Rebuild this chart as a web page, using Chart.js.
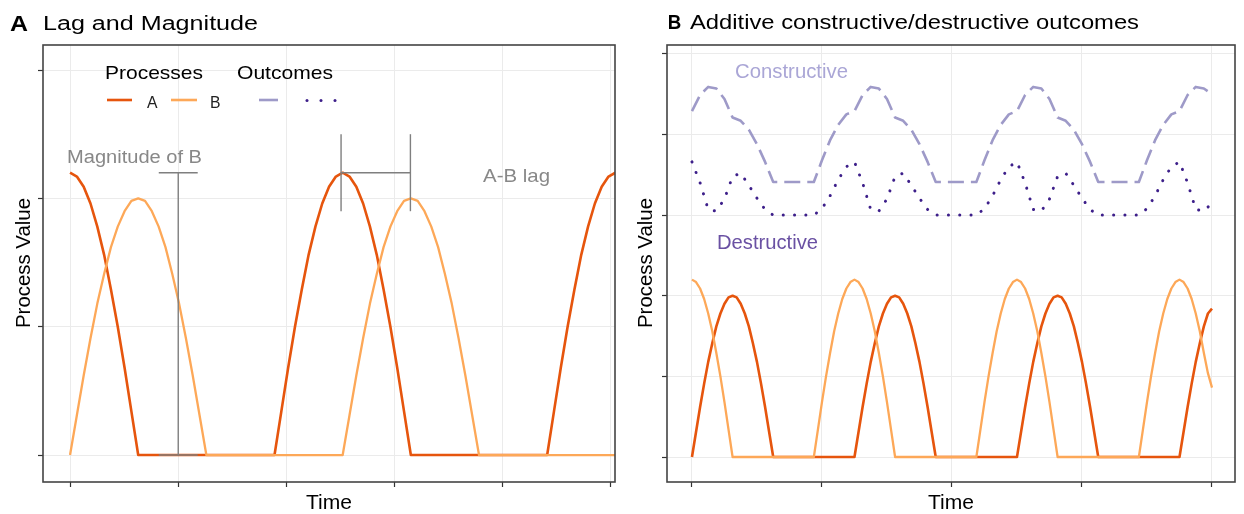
<!DOCTYPE html>
<html>
<head>
<meta charset="utf-8">
<script src="https://cdn.jsdelivr.net/npm/chart.js@4.4.1/dist/chart.umd.min.js"></script>
<style>
  body { margin: 0; background: #fff; }
  #wrap { position: relative; width: 1244px; height: 514px; }
  canvas { position: absolute; top: 0; }
  #chartA { left: 0; }
  #chartB { left: 622px; }
</style>
</head>
<body>
<div id="wrap">
  <canvas id="chartA" width="622" height="514"></canvas>
  <canvas id="chartB" width="622" height="514"></canvas>
</div>
<script>
// ---- panel A data ----
const timeA = [0,0.063,0.126,0.189,0.252,0.315,0.378,0.441,0.504,0.567,0.63,0.693,0.756,0.819,0.882,0.945,1.008,1.071,1.134,1.197,
  1.26,1.323,1.386,1.449,1.512,1.575,1.638,1.701,1.764,1.827,1.89,1.953,2.016,2.079,2.142,2.205,2.268,2.331,2.394,2.457,
  2.52,2.583,2.646,2.709,2.772,2.835,2.898,2.961,3.024,3.087,3.15,3.213,3.276,3.339,3.402,3.465,3.528,3.591,3.654,3.717,
  3.78,3.843,3.906,3.969,4.032,4.095,4.158,4.221,4.284,4.347,4.41,4.473,4.536,4.599,4.662,4.725,4.788,4.851,4.914,4.977,5.04];
const procA_A = [2.2,2.17,2.09,1.96,1.78,1.56,1.29,1,0.68,0.34,0,0,0,0,0,0,0,0,0,0,
  0,0,0,0,0,0,0,0,0,0,0,0.34,0.68,1,1.29,1.56,1.78,1.96,2.09,2.17,
  2.2,2.17,2.09,1.96,1.78,1.56,1.29,1,0.68,0.34,0,0,0,0,0,0,0,0,0,0,
  0,0,0,0,0,0,0,0,0,0,0,0.34,0.68,1,1.29,1.56,1.78,1.96,2.09,2.17,2.2];
const procB_A = [0,0.31,0.62,0.91,1.18,1.41,1.62,1.78,1.9,1.98,2,1.98,1.9,1.78,1.62,1.41,1.18,0.91,0.62,0.31,
  0,0,0,0,0,0,0,0,0,0,0,0,0,0,0,0,0,0,0,0,
  0,0.31,0.62,0.91,1.18,1.41,1.62,1.78,1.9,1.98,2,1.98,1.9,1.78,1.62,1.41,1.18,0.91,0.62,0.31,
  0,0,0,0,0,0,0,0,0,0,0,0,0,0,0,0,0,0,0,0,0];
const xTicksA = [0,1,2,3,4,5];
const yTicksA = [0,1,2,3];
// annotation bars in panel A
const magnitudeBar = {time: 1.0, low: 0, high: 2.2, cap: 0.18};
const lagBar = {level: 2.2, start: 2.505, end: 3.146, capLow: 1.9, capHigh: 2.5};

// ---- panel B data ----
const timeB = [0,0.03125,0.0625,0.09375,0.125,0.15625,0.1875,0.21875,0.25,0.28125,0.3125,0.34375,0.375,0.40625,0.4375,0.46875,
  0.5,0.53125,0.5625,0.59375,0.625,0.65625,0.6875,0.71875,0.75,0.78125,0.8125,0.84375,0.875,0.90625,0.9375,0.96875,
  1,1.03125,1.0625,1.09375,1.125,1.15625,1.1875,1.21875,1.25,1.28125,1.3125,1.34375,1.375,1.40625,1.4375,1.46875,
  1.5,1.53125,1.5625,1.59375,1.625,1.65625,1.6875,1.71875,1.75,1.78125,1.8125,1.84375,1.875,1.90625,1.9375,1.96875,
  2,2.03125,2.0625,2.09375,2.125,2.15625,2.1875,2.21875,2.25,2.28125,2.3125,2.34375,2.375,2.40625,2.4375,2.46875,
  2.5,2.53125,2.5625,2.59375,2.625,2.65625,2.6875,2.71875,2.75,2.78125,2.8125,2.84375,2.875,2.90625,2.9375,2.96875,
  3,3.03125,3.0625,3.09375,3.125,3.15625,3.1875,3.21875,3.25,3.28125,3.3125,3.34375,3.375,3.40625,3.4375,3.46875,
  3.5,3.53125,3.5625,3.59375,3.625,3.65625,3.6875,3.71875,3.75,3.78125,3.8125,3.84375,3.875,3.90625,3.9375,3.96875,4];
const procA_B = [0,0.31,0.62,0.91,1.18,1.41,1.62,1.78,1.9,1.98,2,1.98,1.9,1.78,1.62,1.41,1.18,0.91,0.62,0.31,
  0,0,0,0,0,0,0,0,0,0,0,0,0,0,0,0,0,0,0,0,
  0,0.31,0.62,0.91,1.18,1.41,1.62,1.78,1.9,1.98,2,1.98,1.9,1.78,1.62,1.41,1.18,0.91,0.62,0.31,
  0,0,0,0,0,0,0,0,0,0,0,0,0,0,0,0,0,0,0,0,
  0,0.31,0.62,0.91,1.18,1.41,1.62,1.78,1.9,1.98,2,1.98,1.9,1.78,1.62,1.41,1.18,0.91,0.62,0.31,
  0,0,0,0,0,0,0,0,0,0,0,0,0,0,0,0,0,0,0,0,
  0,0.31,0.62,0.91,1.18,1.41,1.62,1.78,1.84];
const procB_B = [2.2,2.17,2.09,1.96,1.78,1.56,1.29,1,0.68,0.34,0,0,0,0,0,0,0,0,0,0,
  0,0,0,0,0,0,0,0,0,0,0,0.34,0.68,1,1.29,1.56,1.78,1.96,2.09,2.17,
  2.2,2.17,2.09,1.96,1.78,1.56,1.29,1,0.68,0.34,0,0,0,0,0,0,0,0,0,0,
  0,0,0,0,0,0,0,0,0,0,0,0.34,0.68,1,1.29,1.56,1.78,1.96,2.09,2.17,
  2.2,2.17,2.09,1.96,1.78,1.56,1.29,1,0.68,0.34,0,0,0,0,0,0,0,0,0,0,
  0,0,0,0,0,0,0,0,0,0,0,0.34,0.68,1,1.29,1.56,1.78,1.96,2.09,2.17,
  2.2,2.17,2.09,1.96,1.78,1.56,1.29,1.04,0.86];
// outcomes, read at every second time point of timeB
const timeOut = [0,0.0625,0.125,0.1875,0.25,0.3125,0.375,0.4375,0.5,0.5625,0.625,0.6875,0.75,0.8125,0.875,0.9375,
  1,1.0625,1.125,1.1875,1.25,1.3125,1.375,1.4375,1.5,1.5625,1.625,1.6875,1.75,1.8125,1.875,1.9375,
  2,2.0625,2.125,2.1875,2.25,2.3125,2.375,2.4375,2.5,2.5625,2.625,2.6875,2.75,2.8125,2.875,2.9375,
  3,3.0625,3.125,3.1875,3.25,3.3125,3.375,3.4375,3.5,3.5625,3.625,3.6875,3.75,3.8125,3.875,3.9375,4];
const constructive = [4.29,4.49,4.59,4.57,4.44,4.21,4.17,4.06,3.88,3.66,3.41,3.41,3.41,3.41,3.41,3.41,3.68,3.93,4.12,4.25,
  4.29,4.49,4.59,4.57,4.44,4.21,4.17,4.06,3.88,3.66,3.41,3.41,3.41,3.41,3.41,3.41,3.68,3.93,4.12,4.25,
  4.29,4.49,4.59,4.57,4.44,4.21,4.17,4.06,3.88,3.66,3.41,3.41,3.41,3.41,3.41,3.41,3.68,3.93,4.12,4.25,
  4.29,4.49,4.59,4.57,4.5];
const destructive = [3.66,3.4,3.07,3.05,3.2,3.48,3.52,3.37,3.21,3.07,3,3,3,3,3,3,3.08,3.24,3.44,3.6,
  3.66,3.4,3.07,3.05,3.2,3.48,3.52,3.37,3.21,3.07,3,3,3,3,3,3,3.08,3.24,3.44,3.6,
  3.66,3.4,3.07,3.05,3.2,3.48,3.52,3.37,3.21,3.07,3,3,3,3,3,3,3.08,3.24,3.44,3.6,
  3.66,3.4,3.07,3.05,3.15];
const xTicksB = [0,1,2,3,4];
const yTicksB = [0,1,2,3,4,5];

// colours
const RED = '#e6550d', ORANGE = '#fda858', LAVENDER = '#9e9ac8', DOTS = '#3d1f8a', GREY = '#7f7f7f';
const FONT = '"Liberation Sans", Arial, sans-serif';

const pts = (xs, ys) => xs.map((x, i) => ({x, y: ys[i]}));

function lineSet(data, color, width, order, extra) {
  return Object.assign({type: 'line', data, borderColor: color, borderWidth: width, pointRadius: 0,
    tension: 0, fill: false, borderJoinStyle: 'round', order}, extra || {});
}

function axes(xMin, xMax, xTicks, yMin, yMax, yTicks) {
  const grid = {color: '#ebebeb', lineWidth: 1, drawTicks: true, tickLength: 5, tickColor: '#333333', tickWidth: 1.2};
  return {
    x: {type: 'linear', min: xMin, max: xMax, grid, border: {display: false}, ticks: {display: false},
        afterBuildTicks: s => { s.ticks = xTicks.map(v => ({value: v})); }},
    y: {type: 'linear', min: yMin, max: yMax, grid, border: {display: false}, ticks: {display: false},
        afterBuildTicks: s => { s.ticks = yTicks.map(v => ({value: v})); }}
  };
}

// text drawn to a measured width (the picture's text is a little stretched)
function drawText(ctx, t) {
  ctx.save();
  ctx.font = (t.bold ? 'bold ' : '') + t.size + 'px ' + FONT;
  ctx.fillStyle = t.color || '#000';
  ctx.textBaseline = 'alphabetic';
  ctx.textAlign = 'left';
  const w = ctx.measureText(t.text).width;
  const sx = t.width ? t.width / w : 1;
  ctx.translate(t.x, t.y);
  if (t.rotate) {
    ctx.rotate(-Math.PI / 2);
    ctx.scale(sx, 1);
    ctx.fillText(t.text, -w / 2, 0);
  } else {
    ctx.scale(sx, 1);
    ctx.fillText(t.text, 0, 0);
  }
  ctx.restore();
}

function decor(texts, extra) {
  return {
    id: 'decor',
    afterDatasetsDraw(chart) {
      const {ctx, chartArea: a} = chart;
      ctx.save();
      ctx.strokeStyle = '#444';
      ctx.lineWidth = 1.6;
      ctx.strokeRect(a.left, a.top, a.right - a.left, a.bottom - a.top);
      ctx.restore();
    },
    afterDraw(chart) {
      const ctx = chart.ctx;
      texts.forEach(t => drawText(ctx, t));
      if (extra) extra(ctx);
    }
  };
}

const baseOptions = (padding, scales) => ({
  animation: false, responsive: false, devicePixelRatio: 1, events: [],
  layout: {padding},
  plugins: {legend: {display: false}, tooltip: {enabled: false}},
  scales
});

// ---- panel A ----
const annot = [];
const seg = (x1, y1, x2, y2) => annot.push(lineSet([{x: x1, y: y1}, {x: x2, y: y2}], GREY, 1.4, 0));
seg(magnitudeBar.time - magnitudeBar.cap, magnitudeBar.high, magnitudeBar.time + magnitudeBar.cap, magnitudeBar.high);
seg(magnitudeBar.time, magnitudeBar.low, magnitudeBar.time, magnitudeBar.high);
seg(magnitudeBar.time - magnitudeBar.cap, magnitudeBar.low, magnitudeBar.time + magnitudeBar.cap, magnitudeBar.low);
seg(lagBar.start, lagBar.level, lagBar.end, lagBar.level);
seg(lagBar.start, lagBar.capLow, lagBar.start, lagBar.capHigh);
seg(lagBar.end, lagBar.capLow, lagBar.end, lagBar.capHigh);

const textsA = [
  {text: 'A', x: 10, y: 31, size: 22, bold: true, width: 18},
  {text: 'Lag and Magnitude', x: 43, y: 29.5, size: 20, width: 215},
  {text: 'Processes', x: 105, y: 79, size: 18.5, width: 98},
  {text: 'Outcomes', x: 237, y: 79, size: 18.5, width: 96},
  {text: 'A', x: 147, y: 108, size: 16, width: 10.5, color: '#222'},
  {text: 'B', x: 210, y: 108, size: 16, width: 10.5, color: '#222'},
  {text: 'Magnitude of B', x: 67, y: 163, size: 18, width: 135, color: '#888'},
  {text: 'A-B lag', x: 483, y: 182, size: 19, width: 67, color: '#888'},
  {text: 'Time', x: 306, y: 509, size: 20.5, width: 46},
  {text: 'Process Value', x: 30, y: 263, size: 21, width: 130, rotate: true}
];

function legendKeys(ctx) {
  const line = (x1, x2, color) => {
    ctx.save();
    ctx.strokeStyle = color; ctx.lineWidth = 2.6;
    ctx.beginPath(); ctx.moveTo(x1, 100); ctx.lineTo(x2, 100); ctx.stroke();
    ctx.restore();
  };
  line(107, 132, RED);
  line(171, 197, ORANGE);
  line(259, 278, LAVENDER);
  ctx.save();
  ctx.fillStyle = DOTS;
  [307, 321, 335].forEach(x => { ctx.beginPath(); ctx.arc(x, 100.5, 1.5, 0, Math.PI * 2); ctx.fill(); });
  ctx.restore();
}

new Chart(document.getElementById('chartA'), {
  type: 'line',
  data: {datasets: [
    ...annot,
    lineSet(pts(timeA, procB_A), ORANGE, 2.3, 1),
    lineSet(pts(timeA, procA_A), RED, 2.6, 2)
  ]},
  options: baseOptions({left: 38, top: 45, right: 7, bottom: 27},
    axes(-0.25, 5.037, xTicksA, -0.21, 3.195, yTicksA)),
  plugins: [decor(textsA, legendKeys)]
});

// ---- panel B ----
const textsB = [
  {text: 'B', x: 45.7, y: 28.5, size: 21, bold: true, width: 13.5},
  {text: 'Additive constructive/destructive outcomes', x: 68, y: 29, size: 20, width: 449},
  {text: 'Constructive', x: 113, y: 77.7, size: 21, width: 113, color: '#aaa6d6'},
  {text: 'Destructive', x: 95, y: 249, size: 20, width: 101, color: '#6a51a3'},
  {text: 'Time', x: 306, y: 509, size: 20.5, width: 46},
  {text: 'Process Value', x: 30, y: 263, size: 21, width: 130, rotate: true}
];

new Chart(document.getElementById('chartB'), {
  type: 'line',
  data: {datasets: [
    lineSet(pts(timeOut, constructive), LAVENDER, 2.6, 0, {borderDash: [16, 7]}),
    lineSet(pts(timeOut, destructive), DOTS, 3, 0, {borderDash: [0.1, 11.2], borderCapStyle: 'round'}),
    lineSet(pts(timeB, procB_B), ORANGE, 2.3, 1),
    lineSet(pts(timeB, procA_B), RED, 2.6, 2)
  ]},
  options: baseOptions({left: 40, top: 45, right: 9, bottom: 27},
    axes(-0.192, 4.177, xTicksB, -0.31, 5.11, yTicksB)),
  plugins: [decor(textsB)]
});
</script>
</body>
</html>
